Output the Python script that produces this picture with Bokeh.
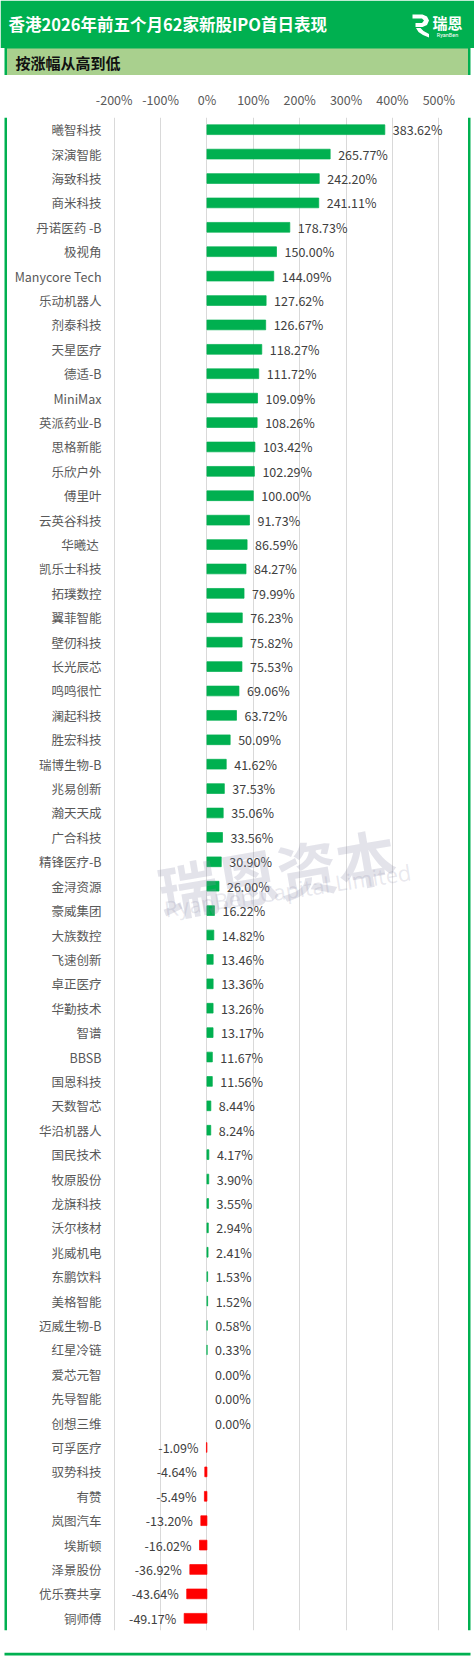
from bokeh.plotting import figure
from bokeh.layouts import column, row
from bokeh.models import (ColumnDataSource, FactorRange, Range1d, FixedTicker, LabelSet,
                          Label, PrintfTickFormatter)
from bokeh.core.properties import value
from bokeh.embed import file_html
from bokeh.resources import INLINE

# ---------------- data ----------------
names = ["曦智科技", "深演智能", "海致科技", "商米科技", "丹诺医药 -B", "极视角", "Manycore Tech",
         "乐动机器人", "剂泰科技", "天星医疗", "德适-B", "MiniMax", "英派药业-B", "思格新能",
         "乐欣户外", "傅里叶", "云英谷科技", "华曦达 ", "凯乐士科技", "拓璞数控", "翼菲智能",
         "壁仞科技", "长光辰芯", "鸣鸣很忙", "澜起科技", "胜宏科技", "瑞博生物-B", "兆易创新",
         "瀚天天成", "广合科技", "精锋医疗-B", "金浔资源", "豪威集团", "大族数控", "飞速创新",
         "卓正医疗", "华勤技术", "智谱", "BBSB", "国恩科技", "天数智芯", "华沿机器人", "国民技术",
         "牧原股份", "龙旗科技", "沃尔核材", "兆威机电", "东鹏饮料", "美格智能", "迈威生物-B",
         "红星冷链", "爱芯元智", "先导智能", "创想三维", "可孚医疗", "驭势科技", "有赞",
         "岚图汽车", "埃斯顿", "泽景股份", "优乐赛共享", "铜师傅"]
values = [383.62, 265.77, 242.20, 241.11, 178.73, 150.00, 144.09,
          127.62, 126.67, 118.27, 111.72, 109.09, 108.26, 103.42,
          102.29, 100.00, 91.73, 86.59, 84.27, 79.99, 76.23,
          75.82, 75.53, 69.06, 63.72, 50.09, 41.62, 37.53,
          35.06, 33.56, 30.90, 26.00, 16.22, 14.82, 13.46,
          13.36, 13.26, 13.17, 11.67, 11.56, 8.44, 8.24, 4.17,
          3.90, 3.55, 2.94, 2.41, 1.53, 1.52, 0.58,
          0.33, 0.00, 0.00, 0.00, -1.09, -4.64, -5.49,
          -13.20, -16.02, -36.92, -43.64, -49.17]
x_ticks = [-200, -100, 0, 100, 200, 300, 400, 500]
title_text = "香港2026年前五个月62家新股IPO首日表现"
subtitle_text = "按涨幅从高到低"
brand_text = "瑞恩"
brand_sub = "RyanBen"
wm_text = "瑞恩资本"
wm_sub = "RyanBen Capital Limited"

# ---------------- style / layout constants ----------------
GREEN = "#00B050"
RED = "#FF0000"
LIGHT = "#A9D08E"
FONT = "Noto Sans CJK SC"

PAGE_W = 474
HEAD_H = 75
SIDE_W = 7
MAIN_W = PAGE_W - 2 * SIDE_W      # 460
MAIN_H = 1575
FOOT_H = 10

FL, FT, FB = 106, 42, 20
FW = 332
FR = MAIN_W - FL - FW
FH = MAIN_H - FT - FB
PX = 324.6 / 700.0                 # pixels per percent
XMIN = -200 - 0.7 / PX
XMAX = XMIN + FW / PX
N = len(names)


def common_fig(w, h, xr, yr):
    f = figure(width=w, height=h, x_range=xr, y_range=yr, x_axis_type=None, y_axis_type=None,
               output_backend="svg", toolbar_location=None, title=None, min_border=0)
    f.outline_line_color = None
    f.border_fill_color = "white"
    f.background_fill_color = "white"
    return f


# ---------------- header ----------------
head = common_fig(PAGE_W, HEAD_H, Range1d(0, PAGE_W), Range1d(HEAD_H, 0))
head.quad(left=[0], right=[PAGE_W], top=[0], bottom=[47.5], fill_color=GREEN, line_color=None)
head.quad(left=[4], right=[470], top=[47.5], bottom=[HEAD_H], fill_color=GREEN, line_color=None)
head.quad(left=[6.5], right=[467.5], top=[48], bottom=[HEAD_H], fill_color=LIGHT, line_color=None)
head.text(x=[8], y=[23.5], text=[title_text], text_font=value(FONT), text_font_size="16.5px",
          text_font_style="bold", text_color="white", text_baseline="middle", text_align="left")
head.text(x=[15], y=[62], text=[subtitle_text], text_font=value(FONT), text_font_size="15px",
          text_font_style="bold", text_color="#111111", text_baseline="middle", text_align="left")
head.text(x=[432], y=[21.5], text=[brand_text], text_font=value(FONT), text_font_size="15px",
          text_font_style="bold", text_color="white", text_baseline="middle", text_align="left")
head.text(x=[447], y=[34], text=[brand_sub], text_font=value("Roboto"), text_font_size="5.5px",
          text_color="white", text_baseline="middle", text_align="center")
hook = [(412, 14), (422, 14), (426.5, 16), (428.5, 20), (426.5, 24.5), (422, 26.5), (415, 26.5),
        (415, 22.5), (421.5, 22.5), (423.5, 20), (421.5, 18), (412, 18)]
tail = [(415.5, 27.5), (420, 27.5), (423, 30.5), (428.5, 33.5), (428.5, 37), (422.5, 34.5),
        (418, 31.5)]
head.patches(xs=[[a for a, _ in hook], [a for a, _ in tail]],
             ys=[[b for _, b in hook], [b for _, b in tail]], fill_color="white", line_color=None)

# ---------------- side strips / footer (outer green frame) ----------------
left = common_fig(SIDE_W, MAIN_H, Range1d(0, SIDE_W), Range1d(MAIN_H, 0))
left.quad(left=[4], right=[6.5], top=[0], bottom=[MAIN_H], fill_color=GREEN, line_color=None)
right = common_fig(SIDE_W, MAIN_H, Range1d(0, SIDE_W), Range1d(MAIN_H, 0))
right.quad(left=[0.5], right=[3], top=[0], bottom=[MAIN_H], fill_color=GREEN, line_color=None)
foot = common_fig(PAGE_W, FOOT_H, Range1d(0, PAGE_W), Range1d(FOOT_H, 0))
foot.quad(left=[4], right=[470], top=[0], bottom=[3], fill_color=GREEN, line_color=None)

# ---------------- main chart ----------------
pos = [(n, v) for n, v in zip(names, values) if v >= 0]
neg = [(n, v) for n, v in zip(names, values) if v < 0]
src = ColumnDataSource(dict(name=names, value=values,
                            color=[GREEN if v >= 0 else RED for v in values],
                            edge=[0.0 if v == 0 else 1.0 for v in values]))
src_pos = ColumnDataSource(dict(name=[n for n, _ in pos], value=[v for _, v in pos],
                                label=[f"{v:.2f}%" for _, v in pos]))
src_neg = ColumnDataSource(dict(name=[n for n, _ in neg], value=[v for _, v in neg],
                                label=[f"{v:.2f}%" for _, v in neg]))

p = figure(width=MAIN_W, height=MAIN_H, y_range=FactorRange(factors=list(reversed(names))),
           x_range=Range1d(XMIN, XMAX), x_axis_location="above",
           output_backend="svg", toolbar_location=None, title=None, min_border=0,
           min_border_left=FL, min_border_right=FR, min_border_top=FT, min_border_bottom=FB)
p.border_fill_color = "white"
p.background_fill_color = "white"
p.outline_line_color = None

p.hbar(y="name", left=0, right="value", height=0.4, fill_color="color", line_color="color",
       line_alpha="edge", line_width=0.7, source=src)

xa = p.xaxis[0]
xa.ticker = FixedTicker(ticks=x_ticks)
xa.formatter = PrintfTickFormatter(format="%d%%")
xa.axis_line_color = None
xa.major_tick_line_color = None
xa.minor_tick_line_color = None
xa.major_tick_out = 0
xa.major_tick_in = 0
xa.major_label_standoff = 9
xa.major_label_text_font = FONT
xa.major_label_text_font_size = "12.5px"
xa.major_label_text_color = "#595959"

ya = p.yaxis[0]
ya.axis_line_color = None
ya.major_tick_line_color = None
ya.major_tick_out = 0
ya.major_tick_in = 0
ya.major_label_standoff = 12
ya.major_label_text_font = FONT
ya.major_label_text_font_size = "12.5px"
ya.major_label_text_color = "#595959"

p.xgrid.grid_line_color = "#D9D9D9"
p.xgrid.grid_line_width = 1
p.ygrid.grid_line_color = None

common = dict(text_font=value(FONT), text_font_size="12.5px", text_color="#404040",
              text_baseline="middle")
p.add_layout(LabelSet(x="value", y="name", text="label", x_offset=8, text_align="left",
                      source=src_pos, **common))
p.add_layout(LabelSet(x="value", y="name", text="label", x_offset=-8, text_align="right",
                      source=src_neg, **common))


# watermark (page coordinates converted to data coordinates)
def dx(page_x):
    return XMIN + (page_x - SIDE_W - FL) / PX


def dy(page_y):
    return N - (page_y - HEAD_H - FT) * N / FH


p.add_layout(Label(x=dx(158), y=dy(891), text=wm_text, angle=0.17, text_font=FONT,
                   text_font_size="60px", text_font_style="bold", text_color="#8A8AA8",
                   text_alpha=0.24, text_align="left", text_baseline="alphabetic"))
p.add_layout(Label(x=dx(164), y=dy(908), text=wm_sub, angle=0.15, text_font="Open Sans",
                   text_font_size="22px", text_color="#8A8AA8",
                   text_alpha=0.2, text_align="left", text_baseline="alphabetic"))

layout = column(head, row(left, p, right), foot)
open("out.html", "w").write(file_html(layout, INLINE))
